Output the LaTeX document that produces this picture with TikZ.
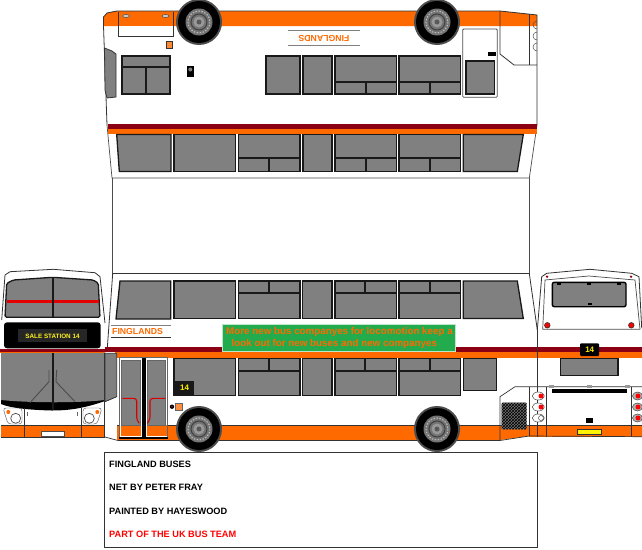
\documentclass[tikz,border=0pt]{standalone}
\usepackage{fontspec}
\setmainfont{Liberation Sans}
\usetikzlibrary{patterns}
\definecolor{busorange}{HTML}{FF6A00}
\definecolor{busred}{HTML}{8C0014}
\definecolor{busgrey}{HTML}{808080}
\definecolor{busgreen}{HTML}{22AC4E}
\tikzset{
  outline/.style={draw=black!80,line width=0.8pt},
  glass/.style={fill=busgrey,draw=black!90,line width=1.3pt},
  glassbar/.style={draw=black!90,line width=1.8pt},
  orangeband/.style={fill=busorange},
  redband/.style={fill=busred},
  netlabel/.style={font=\bfseries\fontsize{9.2}{11}\selectfont,anchor=west,inner sep=0pt},
  numlabel/.style={font=\bfseries\fontsize{8}{9}\selectfont,text=yellow,inner sep=0pt},
  fleetlabel/.style={font=\bfseries\fontsize{8.7}{10}\selectfont,text=busorange,inner sep=0pt},
  redlamp/.style={fill=red,draw=black!80,line width=0.6pt},
}
% x left, x right, x of divider, y top, y of bar, y bottom, y of divider end
\newcommand{\splitwin}[7]{
  \draw[glass] (#1,#4) rectangle (#2,#6);
  \draw[glassbar] (#1,#5) -- (#2,#5);
  \draw[glassbar] (#3,#5) -- (#3,#7);
}
\newcommand{\buswheel}[2]{
  \fill[black!70] (#1,#2) circle (23);
  \fill[black] (#1,#2) circle (21);
  \fill[black!55] (#1,#2) circle (13.5);
  \draw[white!75!black,line width=1pt,dash pattern=on 1.5pt off 1.5pt] (#1,#2) circle (11);
  \draw[black!75,line width=1pt] (#1,#2) circle (8);
  \fill[black!40] (#1,#2) circle (5.5);
  \fill[black!65] (#1,#2) circle (2.5);
}
\begin{document}
\begin{tikzpicture}[x=1pt,y=-1pt]
  \useasboundingbox (0,0) rectangle (642,549);
  \fill[white] (0,0) rectangle (642,549);

  % top panel, upside down
  \path[orangeband] (103.5,26) -- (103.5,17) -- (107,13) -- (117,11) -- (500,11) -- (537,15) -- (537,26) -- cycle;
  \draw[outline] (107,125) -- (103.5,26) -- (103.5,17) -- (107,13) -- (117,11) -- (500,11) -- (537,15) -- (537,125);
  \draw[outline,fill=white] (118,36) -- (118,12) -- (173,12) -- (173,36) -- cycle;
  \path[orangeband] (118.5,12) rectangle (172.5,26);
  \draw[black!70,fill=white!80!black,line width=0.5pt] (126,16) ellipse (3.5 and 1.5);
  \draw[black!70,fill=white!80!black,line width=0.5pt] (165.5,16) ellipse (3.5 and 1.5);
  \draw[black!80,fill=busorange!80,line width=0.5pt] (166.5,41.7) rectangle (172.7,48.3);
  \fill[black] (186.7,66) rectangle (194,76.7);
  \fill[busgrey] (190.3,69.5) circle (2);
  \draw[outline,fill=busgrey] (104.5,48) -- (112,51) -- (116,54) -- (116,97) -- (107,98) -- (105,90) -- cycle;
  \draw[glass] (122,56) rectangle (170,94);
  \draw[glassbar] (122,66.7) -- (170,66.7);
  \draw[glassbar] (146,66.7) -- (146,94);
  \draw[glass] (266,56) rectangle (300,94);
  \draw[glass] (303,56) rectangle (332,94);
  \splitwin{335}{396.7}{365.7}{56}{81.7}{94}{94}
  \splitwin{399}{460.7}{430}{56}{81.7}{94}{94}
  \draw[black!50,line width=0.8pt] (288,30.7) -- (360,30.7);
  \draw[black!50,line width=0.8pt] (288,45.7) -- (360,45.7);
  \node[fleetlabel,rotate=180] (topname) at (324,38) {FINGLANDS};
  % rear door on the top panel
  \draw[black!70,fill=white,line width=0.8pt,rounded corners=1pt] (462.7,29) rectangle (497.3,97.3);
  \draw[glass] (466,61) rectangle (494.3,94);
  \fill[black] (488.3,52.3) rectangle (496,56);
  \draw[outline] (500,11) -- (500,54) -- (514,65) -- (537,65);
  \draw[outline] (529.3,14) -- (529.3,65);
  \foreach \yy in {33,44,55}{
    \draw[black!70,line width=0.5pt] (537,\yy-4) arc (90:270:4 and 4);
  }
  \draw[black!70,line width=0.7pt] (107,125) -- (112,178) -- (529.3,178) -- (537,125);
  \path[redband] (107.5,124) rectangle (537,128.7);
  \path[orangeband] (107.5,128.7) rectangle (537,133.7);
  \draw[glass] (116.7,134.5) -- (171,134.5) -- (171,171.5) -- (119.3,171.5) -- cycle;
  \draw[glass] (174,134.5) rectangle (235.7,171.5);
  \splitwin{238.3}{300}{269.3}{134.5}{158.3}{171.5}{171.5}
  \draw[glass] (303,134.5) rectangle (332,171.5);
  \splitwin{335}{396.7}{365.7}{134.5}{158.3}{171.5}{171.5}
  \splitwin{399}{460.7}{430}{134.5}{158.3}{171.5}{171.5}
  \draw[glass] (463.3,134.5) -- (523.3,134.5) -- (517.3,171.5) -- (463.3,171.5) -- cycle;
  \buswheel{199}{22}
  \buswheel{437}{22}

  % fold lines
  \draw[black!70,line width=0.7pt] (112.7,178) -- (112.7,273.5);
  \draw[black!70,line width=0.7pt] (529.3,178) -- (529.3,273.5);

  % main side
  \draw[outline] (105.5,352) -- (107.3,348) -- (112.7,273.5) -- (529.3,273.5) -- (537.3,330);
  \draw[glass] (120,281) -- (170.7,281) -- (170.7,319) -- (116,319) -- cycle;
  \draw[glass] (174,281) rectangle (235.7,318.5);
  \splitwin{238.3}{300}{269.3}{281}{292.7}{318.5}{281}
  \draw[glass] (302.7,281) rectangle (332,318.5);
  \splitwin{335}{396.7}{365.3}{281}{292.7}{318.5}{281}
  \splitwin{399}{460.7}{430}{281}{292.7}{318.5}{281}
  \draw[glass] (463.3,281) -- (517.3,281) -- (523.3,318.5) -- (463.3,318.5) -- cycle;
  \draw[black!50,line width=0.8pt] (110.7,325) -- (170.7,325);
  \draw[black!80,line width=0.8pt] (110.7,337.3) -- (170.7,337.3);
  \node[fleetlabel,anchor=west] (sidename) at (112,331) {FINGLANDS};

  % stripes, running on over the rear panel
  \path[redband] (105,346.7) rectangle (642,352);
  \path[orangeband] (115,352) rectangle (642,358);
  \path[orangeband] (117,425.5) rectangle (500,440);
  \path[orangeband] (500,425.5) -- (529.3,425.5) -- (529.3,436) -- (500,440) -- cycle;
  \draw[black!80,line width=0.7pt] (117,425.5) -- (500,425.5);
  \path[orangeband] (529.3,425.5) rectangle (642,436.7);
  \draw[black!80,line width=0.7pt] (500,425.5) -- (642,425.5);
  \draw[black!80,line width=0.7pt] (105,437) -- (118,440.5) -- (500,440.5) -- (529.3,436) -- (642,436.7);

  \draw[glass] (174,358.3) rectangle (235.7,395.5);
  \fill[black!90] (174.7,380.7) rectangle (194,395);
  \node[numlabel] (sidenum) at (184.5,388) {14};
  \splitwin{238.3}{300}{269.3}{358.3}{370.7}{395.5}{358.3}
  \draw[glass] (302.7,358.3) rectangle (332,395.5);
  \splitwin{335}{396.7}{365.3}{358.3}{370.7}{395.5}{358.3}
  \splitwin{399}{460.7}{430}{358.3}{370.7}{395.5}{358.3}
  \draw[glass] (463.3,358.3) rectangle (496.7,390.7);

  % entrance doors
  \draw[black!60,fill=white,line width=0.8pt] (119.3,357.3) rectangle (167.7,438);
  \path[orangeband] (120.5,425) rectangle (141,436);
  \path[orangeband] (146.5,425) rectangle (167,436);
  \draw[black!60,fill=busgrey,line width=0.8pt] (121.7,360) rectangle (140,425);
  \draw[black!60,fill=busgrey,line width=0.8pt] (147.3,360) rectangle (165.7,425);
  \fill[black] (141.5,358) rectangle (146,439);
  \fill[black] (119.3,436.5) rectangle (167.7,439);
  \draw[red!85!black,line width=1.1pt,rounded corners=3pt] (122.3,398.3) -- (136.7,398.3) -- (136.7,420) -- (139.3,423.3);
  \draw[red!85!black,line width=1.1pt,rounded corners=3pt] (165,398.3) -- (150,398.3) -- (150,420) -- (147.3,423.3);
  \fill[black] (172,406.7) circle (2.2);
  \fill[busred] (172,406.7) circle (1);
  \draw[black!60,fill=busorange!75,line width=0.5pt] (175.7,403.3) rectangle (182.7,410.3);
  \buswheel{199}{429}
  \buswheel{437}{429}

  % poster over the stripe
  \draw[white!70!busgreen,fill=busgreen,line width=0.6pt] (222.7,324.3) rectangle (455,351.7);
  \node[font=\bfseries\fontsize{9.8}{12}\selectfont,text=busorange,anchor=west,inner sep=0pt] (posterA) at (226,332) {More new bus companyes for locomotion keep a};
  \node[font=\bfseries\fontsize{9.8}{12}\selectfont,text=busorange,anchor=west,inner sep=0pt] (posterB) at (231.5,343.5) {look out for new buses and new companyes};

  % front panel
  \draw[outline] (1.7,320) -- (5,275) -- (10,271.7) -- (53.3,269.3) -- (95,272.7) -- (100,276.7) -- (105,323);
  \draw[glass,rounded corners=1.5pt] (5,317.3) -- (6.7,283.3) -- (13.3,280) -- (52.7,277.3) -- (93.3,280) -- (98.3,283.3) -- (100,317.3) -- cycle;
  \fill[red!90!black] (7,300) rectangle (98.5,303.3);
  \draw[glassbar] (52.7,277.3) -- (52.7,317.3);
  \fill[black,rounded corners=3pt] (4,322.3) rectangle (100.7,348.3);
  \fill[black!85] (18.3,329) rectangle (87.3,342.3);
  \node[font=\bfseries\fontsize{6.3}{8}\selectfont,text=yellow!90!white,inner sep=0pt] (destname) at (52.5,336.5) {SALE STATION 14};
  \path[redband] (0,349.3) rectangle (105,351.7);
  \path[orangeband] (0,351.7) rectangle (105,353.3);
  \fill[black] (1,398) -- (105,398) -- (105,401) .. controls (85,408) and (70,410.5) .. (52,410.5) .. controls (30,410) and (10,408) .. (1,404) -- cycle;
  \fill[busgrey] (1,353.3) rectangle (105,400);
  \fill[busgrey] (1,398) -- (105,398) -- (105,400) .. controls (80,403) and (30,403) .. (1,400) -- cycle;
  \draw[glassbar] (52.7,353.3) -- (52.7,410);
  \draw[black!70,line width=0.9pt] (49,370) -- (49,381.7) -- (30,402.7);
  \draw[black!70,line width=0.9pt] (56.7,370) -- (56,381.7) -- (75,401.7);
  \draw[outline,fill=busgrey] (105,353.3) -- (116.7,353.3) -- (116.7,396.7) -- (105,401.7) -- cycle;
  \path[orangeband] (1,425.7) rectangle (105,437.3);
  \draw[black!80,line width=0.7pt] (1,425.7) -- (105,425.7);
  \draw[black!80,line width=0.7pt] (1,437.3) -- (105,437.3);
  \draw[black!80,line width=0.7pt] (24.3,408) -- (24.3,437.3);
  \draw[black!80,line width=0.7pt] (81,408) -- (81,437.3);
  \draw[black!80,line width=0.7pt] (104.7,353) -- (104.7,437.3);
  \draw[black!70,fill=white,line width=0.5pt] (41.7,431) rectangle (64,436);
  \draw[black!60,line width=0.8pt] (27.7,412) -- (27.7,416);
  \draw[black!60,line width=0.8pt] (77.3,412) -- (77.3,416);
  \draw[black!70,line width=0.4pt,rounded corners=3pt] (3,408) -- (22,408) -- (22,424) -- (8,424) -- cycle;
  \draw[black!70,line width=0.4pt,rounded corners=3pt] (102,408) -- (83,408) -- (83,424) -- (97,424) -- cycle;
  \fill[busorange] (8.3,412) circle (2);
  \fill[busorange] (97.3,412) circle (2);
  \draw[black!70,fill=white,line width=0.7pt] (15.7,418.3) circle (5);
  \draw[black!70,fill=white,line width=0.7pt] (89.3,418.3) circle (5);

  % rear panel
  \draw[outline] (537.3,330) -- (541.7,276.7) -- (546.7,273.3) -- (590,269.3) -- (631.7,273.3) -- (639,276.7) -- (641.7,328);
  \draw[black!70,line width=0.7pt] (542.7,329.3) -- (545,280) -- (589,276) -- (635,280) -- (640,329.3) -- cycle;
  \fill[busred] (547,276.7) circle (1.3);
  \fill[busred] (631,276.7) circle (1.3);
  \draw[fill=busgrey,draw=black,line width=1.4pt,rounded corners=2pt] (552.3,282.3) rectangle (626,306.7);
  \foreach \xx in {559,589,619}{
    \fill[black] (\xx-2,283) rectangle (\xx+2,285);
  }
  \fill[black] (587.5,303) rectangle (592,304.5);
  \draw[redlamp] (547.3,325.3) circle (2.8);
  \draw[redlamp] (631.3,325.3) circle (2.8);
  \fill[black,rounded corners=1pt] (580,343.3) rectangle (599,356);
  \node[numlabel] (rearnum) at (589.7,350) {14};
  \draw[glass] (560.7,358.3) rectangle (618,375.7);
  % engine bay
  \draw[black!80,line width=0.7pt] (500,440) -- (500,396.7) -- (515,386.7) -- (642,386.7);
  \draw[black!80,line width=0.7pt] (529.3,386.7) -- (529.3,436);
  \draw[black!80,line width=0.7pt] (537.3,330) -- (537.3,436.7);
  \draw[black!80,line width=0.7pt] (546.7,386.7) -- (546.7,436.7);
  \draw[black!80,line width=0.7pt] (631.7,386.7) -- (631.7,436.7);
  \fill[black!55,rounded corners=1pt] (501.7,402.7) rectangle (526.7,429.3);
  \fill[pattern=crosshatch,pattern color=black,rounded corners=1pt] (501.7,402.7) rectangle (526.7,429.3);
  \foreach \xx in {551,589,627}{
    \fill[black!40] (\xx-2.5,385) rectangle (\xx+2.5,388);
  }
  \fill[black] (551.7,388.7) rectangle (626.7,392.7);
  \fill[black] (586,418.3) rectangle (592.7,422.7);
  \draw[black!80,fill=yellow,line width=0.7pt] (577.7,429) rectangle (601,434.7);
  \foreach \yy in {396,407,418}{
    \draw[black!70,fill=white,line width=0.5pt] (538.3,\yy) ellipse (6 and 4);
    \draw[black!70,fill=white!70!black,line width=0.5pt] (637.5,\yy) ellipse (5 and 4);
  }
  \foreach \yy in {396,407}{
    \fill[red] (541,\yy) circle (2.5);
  }
  \draw[black!70,fill=white,line width=0.5pt] (541,418) circle (2.5);
  \foreach \yy in {396,407,418}{
    \fill[red] (638,\yy) circle (2.5);
  }

  % credits box
  \draw[black!80,fill=white,line width=0.8pt] (104.3,452.3) rectangle (537.7,547);
  \node[netlabel] (credA) at (109,464) {FINGLAND BUSES};
  \node[netlabel] (credB) at (109,487.5) {NET BY PETER FRAY};
  \node[netlabel] (credC) at (109,511) {PAINTED BY HAYESWOOD};
  \node[netlabel,text=red] (credD) at (109,534) {PART OF THE UK BUS TEAM};
\end{tikzpicture}
\end{document}
